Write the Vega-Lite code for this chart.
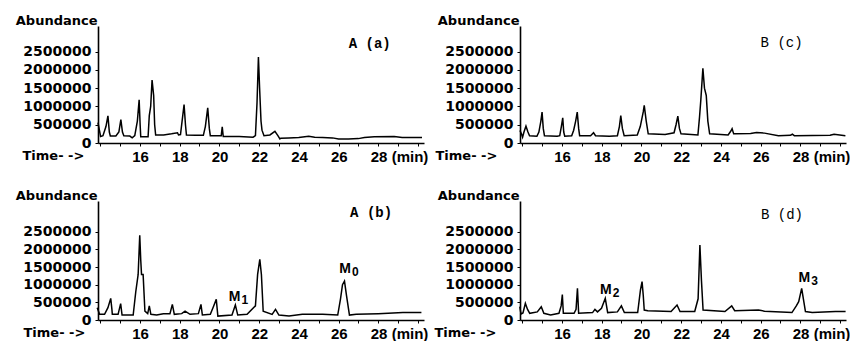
{
  "$schema": "https://vega.github.io/schema/vega-lite/v6.json",
  "padding": {"left": 15, "top": 14, "right": 0, "bottom": 0},
  "background": "white",
  "config": {
    "view": {"stroke": null},
    "axis": {"domainColor": "black", "domainWidth": 1.6, "tickColor": "black", "tickWidth": 1, "tickSize": 3, "grid": false, "labelColor": "black", "titleColor": "black"},
    "axisX": {"labelPadding": 3, "labelFont": "Liberation Sans Narrow, Liberation Sans", "labelFontWeight": "bold", "labelFontSize": 15, "labelOverlap": false, "labelFlush": false, "labelBound": false, "titleAlign": "left", "titleBaseline": "alphabetic", "titleY": 16.5, "titleFont": "DejaVu Sans", "titleFontSize": 13, "titleFontWeight": "bold"},
    "axisY": {"labelFont": "DejaVu Sans", "labelFontWeight": "bold", "labelFontSize": 14, "labelPadding": 4, "titleAngle": 0, "titleX": -1, "titleY": -2, "titleAlign": "right", "titleBaseline": "alphabetic", "titleFont": "DejaVu Sans", "titleFontSize": 13, "titleFontWeight": "bold"}
  },
  "datasets": {
    "a": [
      {"t": 13.9, "v": 560000}, {"t": 13.97, "v": 350000}, {"t": 14.03, "v": 180000}, {"t": 14.15, "v": 200000}, {"t": 14.3, "v": 450000}, {"t": 14.4, "v": 745000}, {"t": 14.47, "v": 300000}, {"t": 14.52, "v": 190000}, {"t": 14.8, "v": 190000}, {"t": 14.95, "v": 300000}, {"t": 15.05, "v": 640000}, {"t": 15.13, "v": 300000}, {"t": 15.2, "v": 200000}, {"t": 15.5, "v": 190000}, {"t": 15.62, "v": 140000}, {"t": 15.75, "v": 200000}, {"t": 15.88, "v": 600000}, {"t": 15.97, "v": 1180000}, {"t": 16.02, "v": 500000}, {"t": 16.05, "v": 170000}, {"t": 16.35, "v": 170000}, {"t": 16.42, "v": 170000}, {"t": 16.48, "v": 750000}, {"t": 16.55, "v": 1000000}, {"t": 16.62, "v": 1720000}, {"t": 16.7, "v": 1300000}, {"t": 16.75, "v": 500000}, {"t": 16.8, "v": 220000}, {"t": 17.2, "v": 220000}, {"t": 17.6, "v": 250000}, {"t": 17.9, "v": 280000}, {"t": 17.95, "v": 220000}, {"t": 18.05, "v": 230000}, {"t": 18.12, "v": 550000}, {"t": 18.23, "v": 1050000}, {"t": 18.3, "v": 500000}, {"t": 18.35, "v": 220000}, {"t": 18.8, "v": 210000}, {"t": 19.2, "v": 210000}, {"t": 19.3, "v": 450000}, {"t": 19.42, "v": 960000}, {"t": 19.5, "v": 400000}, {"t": 19.55, "v": 200000}, {"t": 20.1, "v": 200000}, {"t": 20.15, "v": 440000}, {"t": 20.2, "v": 180000}, {"t": 21.0, "v": 180000}, {"t": 21.7, "v": 160000}, {"t": 21.82, "v": 200000}, {"t": 21.9, "v": 1100000}, {"t": 21.97, "v": 2350000}, {"t": 22.03, "v": 1500000}, {"t": 22.1, "v": 600000}, {"t": 22.15, "v": 350000}, {"t": 22.25, "v": 200000}, {"t": 22.55, "v": 220000}, {"t": 22.8, "v": 320000}, {"t": 22.95, "v": 200000}, {"t": 23.05, "v": 110000}, {"t": 23.1, "v": 130000}, {"t": 23.5, "v": 140000}, {"t": 24.0, "v": 150000}, {"t": 24.5, "v": 185000}, {"t": 24.8, "v": 160000}, {"t": 25.2, "v": 150000}, {"t": 25.7, "v": 140000}, {"t": 26.0, "v": 110000}, {"t": 26.5, "v": 110000}, {"t": 27.0, "v": 120000}, {"t": 27.3, "v": 150000}, {"t": 27.8, "v": 170000}, {"t": 28.8, "v": 175000}, {"t": 29.2, "v": 150000}, {"t": 30.2, "v": 150000}
    ],
    "c": [
      {"t": 13.9, "v": 340000}, {"t": 13.97, "v": 250000}, {"t": 14.03, "v": 156000}, {"t": 14.1, "v": 300000}, {"t": 14.2, "v": 460000}, {"t": 14.3, "v": 300000}, {"t": 14.38, "v": 200000}, {"t": 14.75, "v": 184000}, {"t": 14.85, "v": 300000}, {"t": 14.95, "v": 600000}, {"t": 15.01, "v": 845000}, {"t": 15.07, "v": 400000}, {"t": 15.13, "v": 200000}, {"t": 15.77, "v": 184000}, {"t": 15.9, "v": 200000}, {"t": 15.98, "v": 450000}, {"t": 16.05, "v": 690000}, {"t": 16.1, "v": 300000}, {"t": 16.15, "v": 184000}, {"t": 16.5, "v": 200000}, {"t": 16.6, "v": 350000}, {"t": 16.7, "v": 600000}, {"t": 16.78, "v": 845000}, {"t": 16.85, "v": 400000}, {"t": 16.9, "v": 200000}, {"t": 17.45, "v": 200000}, {"t": 17.6, "v": 280000}, {"t": 17.7, "v": 200000}, {"t": 18.4, "v": 184000}, {"t": 18.8, "v": 200000}, {"t": 18.9, "v": 450000}, {"t": 18.97, "v": 750000}, {"t": 19.05, "v": 400000}, {"t": 19.14, "v": 200000}, {"t": 19.8, "v": 220000}, {"t": 19.95, "v": 450000}, {"t": 20.1, "v": 850000}, {"t": 20.15, "v": 1030000}, {"t": 20.25, "v": 600000}, {"t": 20.35, "v": 250000}, {"t": 21.2, "v": 230000}, {"t": 21.65, "v": 280000}, {"t": 21.75, "v": 500000}, {"t": 21.84, "v": 735000}, {"t": 21.92, "v": 400000}, {"t": 22.0, "v": 250000}, {"t": 22.85, "v": 220000}, {"t": 22.93, "v": 700000}, {"t": 23.0, "v": 1200000}, {"t": 23.1, "v": 2040000}, {"t": 23.18, "v": 1500000}, {"t": 23.27, "v": 1300000}, {"t": 23.35, "v": 600000}, {"t": 23.44, "v": 250000}, {"t": 24.37, "v": 220000}, {"t": 24.5, "v": 320000}, {"t": 24.57, "v": 390000}, {"t": 24.65, "v": 250000}, {"t": 24.75, "v": 250000}, {"t": 25.5, "v": 260000}, {"t": 25.8, "v": 290000}, {"t": 26.2, "v": 270000}, {"t": 26.9, "v": 200000}, {"t": 27.5, "v": 210000}, {"t": 27.6, "v": 240000}, {"t": 27.7, "v": 200000}, {"t": 29.5, "v": 210000}, {"t": 29.7, "v": 240000}, {"t": 30.27, "v": 200000}
    ],
    "b": [
      {"t": 13.86, "v": 350000}, {"t": 13.98, "v": 160000}, {"t": 14.23, "v": 160000}, {"t": 14.4, "v": 350000}, {"t": 14.54, "v": 613000}, {"t": 14.6, "v": 300000}, {"t": 14.62, "v": 160000}, {"t": 14.91, "v": 160000}, {"t": 15.04, "v": 462000}, {"t": 15.11, "v": 140000}, {"t": 15.67, "v": 140000}, {"t": 15.8, "v": 800000}, {"t": 15.92, "v": 1290000}, {"t": 16.0, "v": 2400000}, {"t": 16.05, "v": 1700000}, {"t": 16.09, "v": 1290000}, {"t": 16.17, "v": 1290000}, {"t": 16.26, "v": 250000}, {"t": 16.4, "v": 180000}, {"t": 16.48, "v": 400000}, {"t": 16.56, "v": 160000}, {"t": 16.85, "v": 140000}, {"t": 17.19, "v": 180000}, {"t": 17.52, "v": 180000}, {"t": 17.64, "v": 443000}, {"t": 17.74, "v": 160000}, {"t": 18.11, "v": 180000}, {"t": 18.28, "v": 250000}, {"t": 18.53, "v": 160000}, {"t": 18.95, "v": 180000}, {"t": 19.08, "v": 443000}, {"t": 19.15, "v": 140000}, {"t": 19.55, "v": 160000}, {"t": 19.7, "v": 370000}, {"t": 19.85, "v": 585000}, {"t": 19.93, "v": 110000}, {"t": 20.64, "v": 140000}, {"t": 20.81, "v": 425000}, {"t": 20.93, "v": 140000}, {"t": 21.4, "v": 160000}, {"t": 21.82, "v": 400000}, {"t": 21.93, "v": 1290000}, {"t": 22.04, "v": 1720000}, {"t": 22.12, "v": 1290000}, {"t": 22.21, "v": 250000}, {"t": 22.66, "v": 160000}, {"t": 22.83, "v": 300000}, {"t": 23.0, "v": 140000}, {"t": 23.51, "v": 110000}, {"t": 24.18, "v": 160000}, {"t": 25.2, "v": 160000}, {"t": 25.96, "v": 140000}, {"t": 26.1, "v": 600000}, {"t": 26.2, "v": 1000000}, {"t": 26.3, "v": 1100000}, {"t": 26.4, "v": 700000}, {"t": 26.55, "v": 140000}, {"t": 26.89, "v": 160000}, {"t": 28.0, "v": 180000}, {"t": 29.24, "v": 210000}, {"t": 30.17, "v": 210000}
    ],
    "d": [
      {"t": 13.89, "v": 377000}, {"t": 13.95, "v": 170000}, {"t": 14.05, "v": 200000}, {"t": 14.17, "v": 470000}, {"t": 14.28, "v": 300000}, {"t": 14.39, "v": 190000}, {"t": 14.77, "v": 230000}, {"t": 14.97, "v": 377000}, {"t": 15.1, "v": 190000}, {"t": 15.44, "v": 140000}, {"t": 15.86, "v": 190000}, {"t": 15.97, "v": 400000}, {"t": 16.03, "v": 720000}, {"t": 16.08, "v": 190000}, {"t": 16.62, "v": 190000}, {"t": 16.72, "v": 300000}, {"t": 16.79, "v": 900000}, {"t": 16.85, "v": 190000}, {"t": 17.55, "v": 210000}, {"t": 17.67, "v": 300000}, {"t": 17.8, "v": 230000}, {"t": 18.0, "v": 330000}, {"t": 18.19, "v": 613000}, {"t": 18.31, "v": 210000}, {"t": 18.8, "v": 230000}, {"t": 19.0, "v": 400000}, {"t": 19.15, "v": 210000}, {"t": 19.82, "v": 210000}, {"t": 19.96, "v": 850000}, {"t": 20.04, "v": 1085000}, {"t": 20.1, "v": 700000}, {"t": 20.15, "v": 280000}, {"t": 20.33, "v": 265000}, {"t": 21.5, "v": 240000}, {"t": 21.8, "v": 425000}, {"t": 21.95, "v": 240000}, {"t": 22.69, "v": 240000}, {"t": 22.86, "v": 600000}, {"t": 22.95, "v": 2120000}, {"t": 23.03, "v": 1100000}, {"t": 23.11, "v": 280000}, {"t": 24.21, "v": 240000}, {"t": 24.55, "v": 400000}, {"t": 24.7, "v": 265000}, {"t": 25.9, "v": 280000}, {"t": 26.2, "v": 250000}, {"t": 27.58, "v": 210000}, {"t": 27.8, "v": 400000}, {"t": 27.92, "v": 520000}, {"t": 28.07, "v": 896000}, {"t": 28.26, "v": 240000}, {"t": 28.6, "v": 210000}, {"t": 29.77, "v": 240000}, {"t": 30.28, "v": 240000}
    ]
  },
  "columns": 2,
  "bounds": "flush",
  "align": "each",
  "spacing": {"row": 58, "column": 96},
  "concat": [
    {
      "width": 326, "height": 117,
      "encoding": {
        "x": {"field": "t", "type": "quantitative", "scale": {"domain": [13.9, 30.3], "nice": false, "zero": false}, "axis": {"title": "Time- ->", "titleX": -76, "labelAlign": "left", "labelOffset": -8, "values": [14,15,16,17,18,19,20,21,22,23,24,25,26,27,28,29,30], "labelExpr": "datum.value == 28 ? '28 (min)' : ((datum.value >= 16 && datum.value <= 26 && datum.value % 2 == 0) ? datum.label : '')"}},
        "y": {"field": "v", "type": "quantitative", "scale": {"domain": [0, 3200000], "nice": false}, "axis": {"title": "Abundance", "values": [0, 500000, 1000000, 1500000, 2000000, 2500000], "format": "d"}}
      },
      "layer": [
        {"data": {"name": "a"}, "mark": {"type": "line", "color": "black", "strokeWidth": 1.5}},
        {"data": {"values": [{"t": 27.57, "v": 2710000, "label": "A  (a)"}]}, "mark": {"type": "text", "font": "Liberation Mono", "fontSize": 14, "fontWeight": "bold", "align": "center", "baseline": "middle", "color": "black"}, "encoding": {"text": {"field": "label"}}}
      ]
    },
    {
      "width": 326, "height": 117,
      "encoding": {
        "x": {"field": "t", "type": "quantitative", "scale": {"domain": [13.9, 30.3], "nice": false, "zero": false}, "axis": {"title": "Time- ->", "titleX": -85, "labelAlign": "left", "labelOffset": -8, "values": [14,15,16,17,18,19,20,21,22,23,24,25,26,27,28,29,30], "labelExpr": "datum.value == 28 ? '28 (min)' : ((datum.value >= 16 && datum.value <= 26 && datum.value % 2 == 0) ? datum.label : '')"}},
        "y": {"field": "v", "type": "quantitative", "scale": {"domain": [0, 3200000], "nice": false}, "axis": {"title": "Abundance", "values": [0, 500000, 1000000, 1500000, 2000000, 2500000], "format": "d"}}
      },
      "layer": [
        {"data": {"name": "c"}, "mark": {"type": "line", "color": "black", "strokeWidth": 1.5}},
        {"data": {"values": [{"t": 27.06, "v": 2730000, "label": "B  (c)"}]}, "mark": {"type": "text", "font": "Liberation Mono", "fontSize": 14, "align": "center", "baseline": "middle", "color": "black"}, "encoding": {"text": {"field": "label"}}}
      ]
    },
    {
      "width": 326, "height": 119,
      "encoding": {
        "x": {"field": "t", "type": "quantitative", "scale": {"domain": [13.9, 30.3], "nice": false, "zero": false}, "axis": {"title": "Time- ->", "titleX": -75, "labelAlign": "left", "labelOffset": -8, "values": [14,15,16,17,18,19,20,21,22,23,24,25,26,27,28,29,30], "labelExpr": "datum.value == 28 ? '28 (min)' : ((datum.value >= 16 && datum.value <= 26 && datum.value % 2 == 0) ? datum.label : '')"}},
        "y": {"field": "v", "type": "quantitative", "scale": {"domain": [0, 3370000], "nice": false}, "axis": {"title": "Abundance", "values": [0, 500000, 1000000, 1500000, 2000000, 2500000], "format": "d"}}
      },
      "layer": [
        {"data": {"name": "b"}, "mark": {"type": "line", "color": "black", "strokeWidth": 1.5}},
        {"data": {"values": [{"t": 27.64, "v": 3040000, "label": "A  (b)"}]}, "mark": {"type": "text", "font": "Liberation Mono", "fontSize": 14, "fontWeight": "bold", "align": "center", "baseline": "middle", "color": "black"}, "encoding": {"text": {"field": "label"}}},
        {"data": {"values": [{"t": 20.77, "v": 538000, "m": "M", "sub": "1"}, {"t": 26.33, "v": 1340000, "m": "M", "sub": "0"}]}, "mark": {"type": "text", "font": "Liberation Sans", "fontWeight": "bold", "fontSize": 14, "align": "center", "baseline": "alphabetic", "color": "black"}, "encoding": {"text": {"field": "m"}}},
        {"data": {"values": [{"t": 20.77, "v": 538000, "m": "M", "sub": "1"}, {"t": 26.33, "v": 1340000, "m": "M", "sub": "0"}]}, "mark": {"type": "text", "font": "Liberation Sans", "fontWeight": "bold", "fontSize": 12, "align": "left", "baseline": "alphabetic", "dx": 7, "dy": 3, "color": "black"}, "encoding": {"text": {"field": "sub"}}}
      ]
    },
    {
      "width": 326, "height": 119,
      "encoding": {
        "x": {"field": "t", "type": "quantitative", "scale": {"domain": [13.9, 30.3], "nice": false, "zero": false}, "axis": {"title": "Time- ->", "titleX": -86, "labelAlign": "left", "labelOffset": -8, "values": [14,15,16,17,18,19,20,21,22,23,24,25,26,27,28,29,30], "labelExpr": "datum.value == 28 ? '28 (min)' : ((datum.value >= 16 && datum.value <= 26 && datum.value % 2 == 0) ? datum.label : '')"}},
        "y": {"field": "v", "type": "quantitative", "scale": {"domain": [0, 3370000], "nice": false}, "axis": {"title": "Abundance", "values": [0, 500000, 1000000, 1500000, 2000000, 2500000], "format": "d"}}
      },
      "layer": [
        {"data": {"name": "d"}, "mark": {"type": "line", "color": "black", "strokeWidth": 1.5}},
        {"data": {"values": [{"t": 27.08, "v": 2970000, "label": "B  (d)"}]}, "mark": {"type": "text", "font": "Liberation Mono", "fontSize": 14, "align": "center", "baseline": "middle", "color": "black"}, "encoding": {"text": {"field": "label"}}},
        {"data": {"values": [{"t": 18.22, "v": 727000, "m": "M", "sub": "2"}, {"t": 28.2, "v": 1080000, "m": "M", "sub": "3"}]}, "mark": {"type": "text", "font": "Liberation Sans", "fontWeight": "bold", "fontSize": 14, "align": "center", "baseline": "alphabetic", "color": "black"}, "encoding": {"text": {"field": "m"}}},
        {"data": {"values": [{"t": 18.22, "v": 727000, "m": "M", "sub": "2"}, {"t": 28.2, "v": 1080000, "m": "M", "sub": "3"}]}, "mark": {"type": "text", "font": "Liberation Sans", "fontWeight": "bold", "fontSize": 12, "align": "left", "baseline": "alphabetic", "dx": 7, "dy": 3, "color": "black"}, "encoding": {"text": {"field": "sub"}}}
      ]
    }
  ]
}
